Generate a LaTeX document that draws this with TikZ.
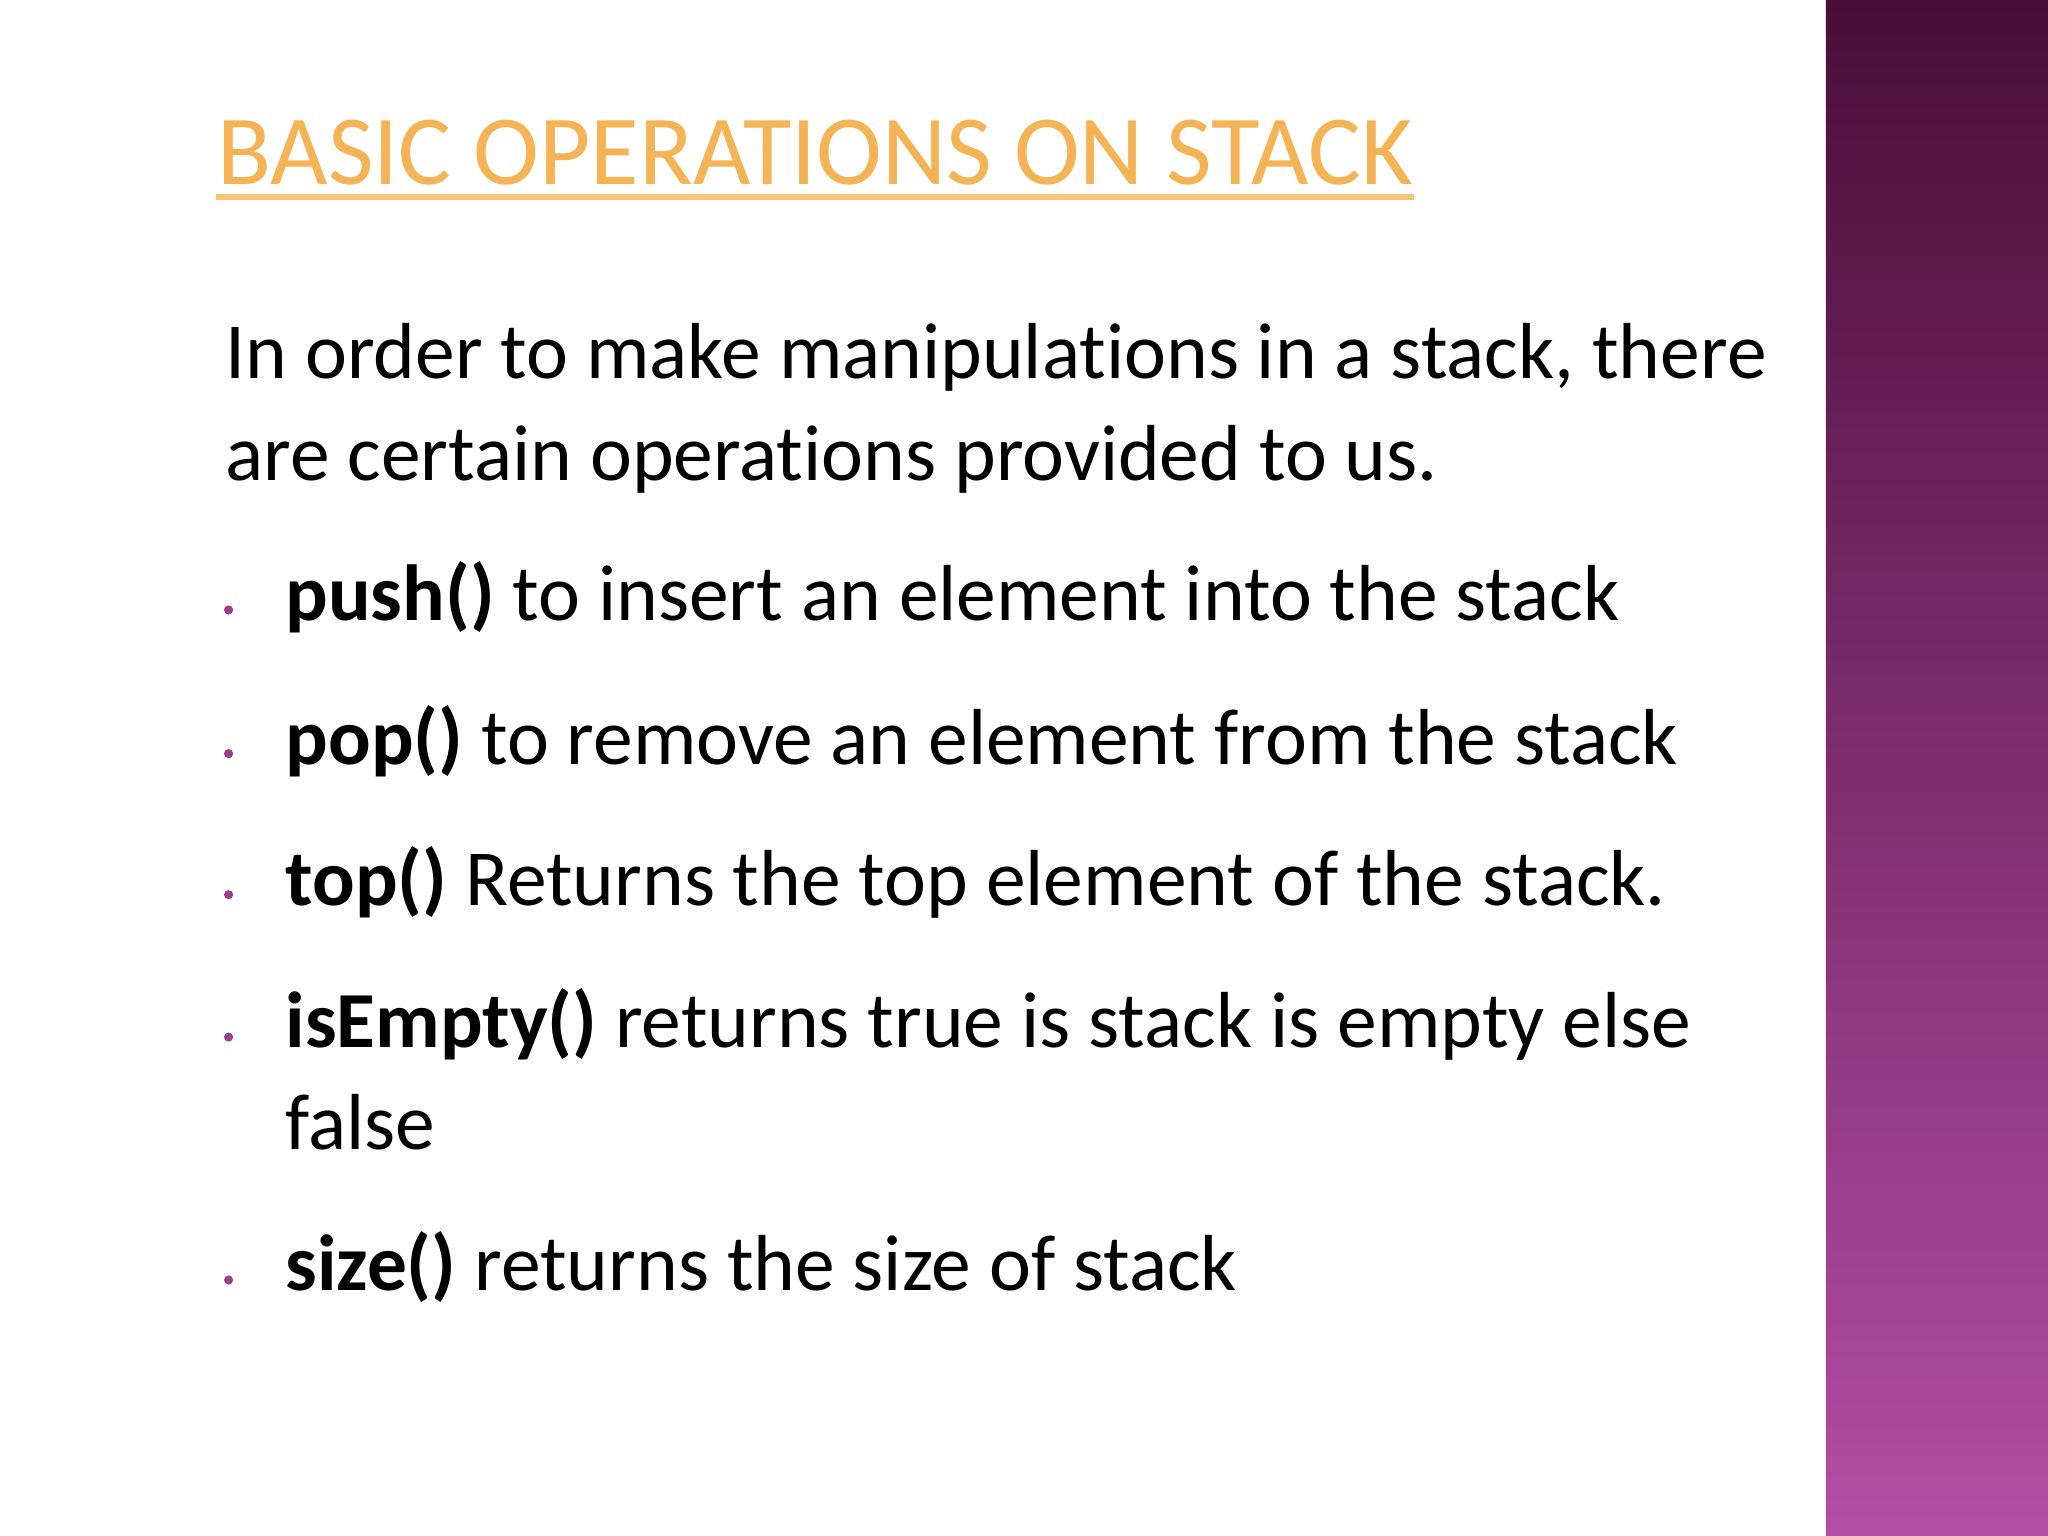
\documentclass[tikz,border=0pt]{standalone}
\usepackage{fontspec}
\setmainfont{Carlito}[RawFeature={-liga}]
\definecolor{bartop}{HTML}{4A0E3A}
\definecolor{barbot}{HTML}{B44DA4}
\definecolor{titlecol}{HTML}{F4B455}
\definecolor{bulcol}{HTML}{9A3F8A}
\tikzset{
  bodytext/.style={anchor=base west,inner sep=0pt,font=\fontsize{17.3pt}{21pt}\selectfont},
  bul/.style={circle,fill=bulcol,inner sep=0pt,minimum size=0.07cm}
}
\begin{document}
\begin{tikzpicture}[x=0.01cm,y=-0.01cm]
\useasboundingbox (0,0) rectangle (1568,1176);
\fill[white] (0,0) rectangle (1568,1176);
\shade[top color=bartop,bottom color=barbot] (1398,0) rectangle (1568,1176);
\node[anchor=base west,inner sep=0pt,text=titlecol,font=\fontsize{21.6pt}{26pt}\selectfont] (title) at (166,141) {BASIC OPERATIONS ON STACK};
\coordinate (u1) at (165,151);
\draw[titlecol!80,line width=1.2pt] (u1) -- (u1 -| title.east);
\node[bodytext] (l1) at (172,290) {In order to make manipulations in a stack, there};
\node[bodytext] (l2) at (172,368) {are certain operations provided to us.};
\foreach \y/\t [count=\i] in {475/{\textbf{push()} to insert an element into the stack},585/{\textbf{pop()} to remove an element from the stack},693/{\textbf{top()} Returns the top element of the stack.},802/{\textbf{isEmpty()} returns true is stack is empty else},988/{\textbf{size()} returns the size of stack}}{
  \node[bul] (b\i) at (175,\y-8) {};
  \node[bodytext] (t\i) at (218,\y) {\t};
}
\node[bodytext] (t4b) at (218,880) {false};
\end{tikzpicture}
\end{document}
